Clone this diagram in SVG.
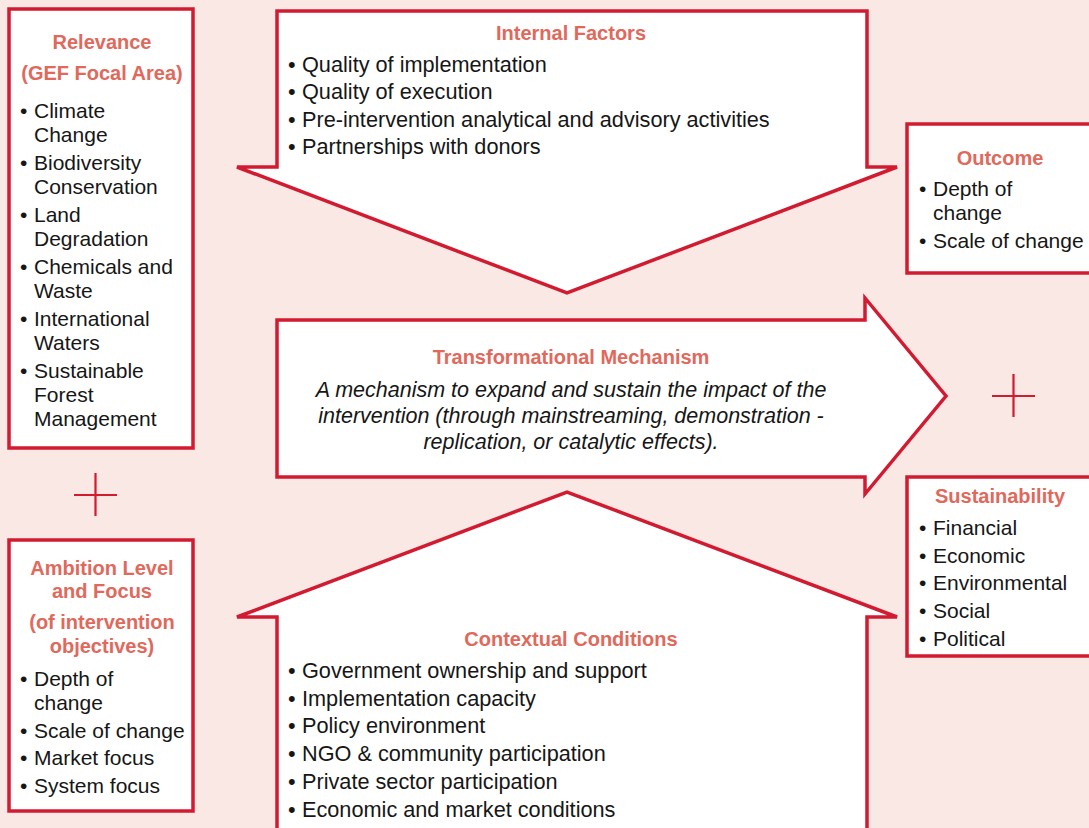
<svg xmlns="http://www.w3.org/2000/svg" width="1089" height="828" viewBox="0 0 1089 828">
<style>
.shape{fill:#ffffff;stroke:#D21A30;stroke-width:3.5;stroke-linejoin:miter}
.plus{stroke:#D21A30;stroke-width:2.2;fill:none}
.title{font-family:"Liberation Sans",Arial,sans-serif;font-weight:bold;font-size:20px;fill:#E0695C;text-anchor:middle}
.body{font-family:"Liberation Sans",Arial,sans-serif;font-size:21px;fill:#161616}
.wide{font-size:21.7px}
.ital{font-family:"Liberation Sans",Arial,sans-serif;font-style:italic;font-size:21.5px;fill:#161616;text-anchor:middle}
</style>
<rect width="1089" height="828" fill="#F9E8E4"/>

<g id="relevance">
<rect class="shape" x="9" y="9" width="184" height="439"/>
<text class="title" x="102" y="49">Relevance</text>
<text class="title" x="102" y="80">(GEF Focal Area)</text>
<g class="body">
<text x="20" y="118">•</text><text x="34" y="118">Climate</text>
<text x="34" y="142">Change</text>
<text x="20" y="170">•</text><text x="34" y="170">Biodiversity</text>
<text x="34" y="194">Conservation</text>
<text x="20" y="222">•</text><text x="34" y="222">Land</text>
<text x="34" y="246">Degradation</text>
<text x="20" y="274">•</text><text x="34" y="274">Chemicals and</text>
<text x="34" y="298">Waste</text>
<text x="20" y="326">•</text><text x="34" y="326">International</text>
<text x="34" y="350">Waters</text>
<text x="20" y="378">•</text><text x="34" y="378">Sustainable</text>
<text x="34" y="402">Forest</text>
<text x="34" y="426">Management</text>
</g>
</g>

<g id="plus-left">
<path class="plus" d="M74 495H117M95.5 473V516"/>
</g>

<g id="ambition">
<rect class="shape" x="9" y="540" width="184" height="271"/>
<text class="title" x="102" y="575">Ambition Level</text>
<text class="title" x="102" y="598">and Focus</text>
<text class="title" x="102" y="629">(of intervention</text>
<text class="title" x="102" y="653">objectives)</text>
<g class="body">
<text x="20" y="686">•</text><text x="34" y="686">Depth of</text>
<text x="34" y="710">change</text>
<text x="20" y="738">•</text><text x="34" y="738">Scale of change</text>
<text x="20" y="765">•</text><text x="34" y="765">Market focus</text>
<text x="20" y="793">•</text><text x="34" y="793">System focus</text>
</g>
</g>

<g id="internal-factors">
<polygon class="shape" points="277,11 867,11 867,167 897,167 567,293 237,167 277,167"/>
<text class="title" x="571" y="40">Internal Factors</text>
<g class="body wide">
<text x="288" y="72">•</text><text x="302" y="72">Quality of implementation</text>
<text x="288" y="99">•</text><text x="302" y="99">Quality of execution</text>
<text x="288" y="127">•</text><text x="302" y="127">Pre-intervention analytical and advisory activities</text>
<text x="288" y="154">•</text><text x="302" y="154">Partnerships with donors</text>
</g>
</g>

<g id="transformational-mechanism">
<polygon class="shape" points="277,320 865,320 865,298 946,396 865,494 865,477 277,477"/>
<text class="title" x="571" y="364">Transformational Mechanism</text>
<text class="ital" x="571" y="397">A mechanism to expand and sustain the impact of the</text>
<text class="ital" x="571" y="423">intervention (through mainstreaming, demonstration -</text>
<text class="ital" x="571" y="449">replication, or catalytic effects).</text>
</g>

<g id="contextual-conditions">
<polygon class="shape" points="277,845 277,617 237,617 567,492 897,617 867,617 867,845"/>
<text class="title" x="571" y="646">Contextual Conditions</text>
<g class="body wide">
<text x="288" y="678">•</text><text x="302" y="678">Government ownership and support</text>
<text x="288" y="706">•</text><text x="302" y="706">Implementation capacity</text>
<text x="288" y="733">•</text><text x="302" y="733">Policy environment</text>
<text x="288" y="761">•</text><text x="302" y="761">NGO &amp; community participation</text>
<text x="288" y="789">•</text><text x="302" y="789">Private sector participation</text>
<text x="288" y="817">•</text><text x="302" y="817">Economic and market conditions</text>
</g>
</g>

<g id="outcome">
<rect class="shape" x="907" y="124" width="200" height="149"/>
<text class="title" x="1000" y="165">Outcome</text>
<g class="body">
<text x="919" y="196">•</text><text x="933" y="196">Depth of</text>
<text x="933" y="220">change</text>
<text x="919" y="248">•</text><text x="933" y="248">Scale of change</text>
</g>
</g>

<g id="plus-right">
<path class="plus" d="M992 396H1035M1013.5 374V417"/>
</g>

<g id="sustainability">
<rect class="shape" x="907" y="477" width="200" height="179"/>
<text class="title" x="1000" y="503">Sustainability</text>
<g class="body">
<text x="919" y="535">•</text><text x="933" y="535">Financial</text>
<text x="919" y="563">•</text><text x="933" y="563">Economic</text>
<text x="919" y="590">•</text><text x="933" y="590">Environmental</text>
<text x="919" y="618">•</text><text x="933" y="618">Social</text>
<text x="919" y="646">•</text><text x="933" y="646">Political</text>
</g>
</g>

<g id="connectors"></g>
</svg>
